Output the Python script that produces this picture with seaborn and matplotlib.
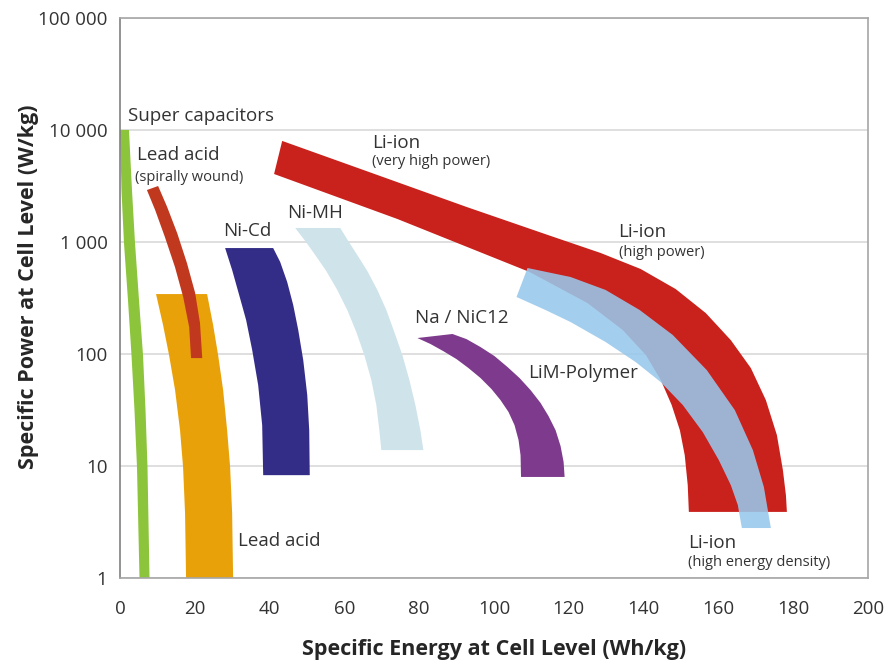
import numpy as np
import pandas as pd
import matplotlib
matplotlib.use("Agg")
import matplotlib.pyplot as plt
import seaborn as sns
from matplotlib.ticker import FuncFormatter

### Band outlines (energy in Wh/kg, power in W/kg) ###
# Super capacitors
supercap_left_e = [0.0, 0.40, 1.07, 2.14, 3.08, 3.88, 4.55, 5.22]
supercap_left_p = [10000, 2911, 980, 303, 98, 31.6, 9.8, 1]
supercap_right_e = [2.41, 3.21, 4.02, 5.09, 6.16, 6.83, 7.36, 7.90]
supercap_right_p = [10000, 2911, 980, 303, 98, 31.6, 9.8, 1]

# Lead acid (spirally wound)
spiral_left_e = [7.2, 9.4, 12.0, 14.7, 16.9, 18.5, 19.0]
spiral_left_p = [2910, 1930, 1110, 598, 323, 174, 92]
spiral_right_e = [10.2, 12.6, 15.3, 17.9, 20.1, 21.4, 22.0]
spiral_right_p = [3160, 2060, 1200, 650, 351, 189, 92]

# Lead acid
lead_left_e = [9.64, 11.51, 13.12, 14.73, 16.06, 16.87, 17.40, 17.67]
lead_left_p = [343, 182, 98, 47.7, 20.9, 9.8, 3.8, 1]
lead_right_e = [23.29, 24.90, 26.24, 27.58, 28.65, 29.45, 29.99, 30.25]
lead_right_p = [343, 182, 98, 47.7, 20.9, 9.8, 3.8, 1]

# Ni-Cd
nicd_left_e = [28.11, 29.99, 31.86, 33.73, 35.34, 36.95, 38.02, 38.29]
nicd_left_p = [883, 562, 337, 201, 109, 52.8, 23.2, 8.3]
nicd_right_e = [40.96, 42.84, 44.71, 46.32, 47.66, 49.00, 50.07, 50.60, 50.74]
nicd_right_p = [883, 663, 439, 274, 164, 88.3, 43.1, 20.9, 8.3]

# Ni-MH
nimh_left_e = [46.85, 49.53, 52.21, 55.15, 58.10, 60.78, 63.19, 65.33, 67.20, 68.54, 69.34, 69.88]
nimh_left_p = [1334, 1021, 765, 551, 373, 247, 157, 98, 58.6, 35.1, 20.9, 13.9]
nimh_right_e = [58.90, 61.04, 63.45, 66.13, 68.81, 71.22, 73.36, 75.50, 77.38, 78.98, 80.32, 81.12]
nimh_right_p = [1334, 1021, 765, 551, 373, 247, 157, 98, 58.6, 35.1, 20.9, 13.9]

# Na / NiCl2
nacl_low_e = [79.52, 83.00, 86.48, 89.96, 93.17, 96.39, 99.33, 101.74, 103.88, 105.49, 106.56, 107.10, 107.23]
nacl_low_p = [139, 123, 106, 90.2, 75.0, 61.1, 48.7, 38.8, 30.4, 23.2, 17.1, 12.5, 8.0]
nacl_up_e = [88.89, 92.64, 96.39, 100.13, 103.61, 106.83, 109.77, 112.45, 114.59, 116.47, 117.80, 118.61, 118.88]
nacl_up_p = [151, 136, 115.5, 95.9, 76.6, 61.1, 47.7, 36.6, 27.9, 20.9, 15.1, 10.9, 8.0]

# Li-ion (very high power -> high power)
liion_up_e = [43.37, 65.06, 92.64, 115.13, 128.51, 139.22, 148.59, 156.63, 163.32,
              168.67, 172.69, 175.64, 177.24, 178.05, 178.31]
liion_up_p = [7980, 4395, 2056, 1133, 798, 574, 380, 232, 133, 75.0, 38.8, 18.9, 9.2, 5.5, 3.9]
liion_low_e = [41.2, 74.2, 109.5, 125.0, 134.4, 140.6, 144.6, 147.5, 149.7, 151.0, 151.8, 152.1]
liion_low_p = [4045, 1603, 540, 285, 164, 98, 58.6, 35.1, 20.9, 12.5, 6.76, 3.9]

# Li-ion (high energy density) / LiM-Polymer
lihe_up_e = [108.97, 120.48, 129.85, 138.96, 147.79, 156.89, 164.39, 169.21, 172.16, 174.03]
lihe_up_p = [586, 487, 373, 247, 148, 71.9, 31.6, 13.9, 6.5, 2.8]
lihe_low_e = [106.02, 113.79, 120.48, 129.85, 137.88, 144.58, 150.47, 155.82, 160.11,
              163.32, 165.19, 166.27]
lihe_low_p = [323, 247, 193, 128, 84.8, 56.2, 35.1, 20.1, 11.3, 6.76, 4.49, 2.8]

y_ticks = [1, 10, 100, 1000, 10000, 100000]
x_ticks = [0, 20, 40, 60, 80, 100, 120, 140, 160, 180, 200]

sns.set_style("white")
plt.rcParams['font.family'] = ['Open Sans', 'DejaVu Sans']

fig = plt.figure(figsize=(8.9, 6.63), dpi=100)
ax = fig.add_axes([0.1348, 0.128, 0.8405, 0.845])


def band(e1, p1, e2, p2, color, alpha=1.0, z=2):
    # outline = first edge forward + second edge backward
    df = pd.DataFrame({"e": list(e1) + list(e2)[::-1],
                       "p": list(p1) + list(p2)[::-1]})
    ax.fill(df["e"], df["p"], color=color, alpha=alpha, lw=0, zorder=z)


band(supercap_left_e, supercap_left_p, supercap_right_e, supercap_right_p, "#8cc43c")
band(lead_left_e, lead_left_p, lead_right_e, lead_right_p, "#e9a10a")
band(spiral_left_e, spiral_left_p, spiral_right_e, spiral_right_p, "#c0391f", z=3)
band(nicd_left_e, nicd_left_p, nicd_right_e, nicd_right_p, "#342d88")
band(nimh_left_e, nimh_left_p, nimh_right_e, nimh_right_p, "#cfe3ea")
band(nacl_low_e, nacl_low_p, nacl_up_e, nacl_up_p, "#7e3a8c")
band(liion_up_e, liion_up_p, liion_low_e, liion_low_p, "#c9211c")
band(lihe_up_e, lihe_up_p, lihe_low_e, lihe_low_p, "#98c8ec", alpha=0.88, z=4)

ax.set_yscale("log")
ax.set_xlim(0, 200)
ax.set_ylim(1, 100000)
ax.set_xticks(x_ticks)
ax.set_yticks(y_ticks)
ax.minorticks_off()
ax.yaxis.set_major_formatter(FuncFormatter(lambda v, pos: f"{int(v):,}".replace(",", " ")))
ax.grid(axis="y", color="#d9d9d9", lw=1.2)
ax.set_axisbelow(True)
ax.tick_params(axis="both", direction="out", length=5, width=1, color="#808080",
               labelsize=13.5, labelcolor="#333333")
ax.tick_params(axis="x", pad=11)
ax.tick_params(axis="y", pad=4)
for s in ["top", "right", "bottom"]:
    ax.spines[s].set_color("#a6a6a6")
ax.spines["left"].set_color("#808080")
for s in ax.spines.values():
    s.set_linewidth(1.2)

ax.set_xlabel("Specific Energy at Cell Level (Wh/kg)", fontsize=15.5, fontweight="bold",
              labelpad=15)
ax.set_ylabel("Specific Power at Cell Level (W/kg)", fontsize=15.5, fontweight="bold")
ax.yaxis.set_label_coords(-0.108, 0.52)

# labels
big = dict(fontsize=13.5, color="#333333", va="center", ha="left", zorder=5)
small = dict(fontsize=10.5, color="#333333", va="center", ha="left", zorder=5)
ax.text(2.1, 13300, "Super capacitors", **big)
ax.text(4.6, 6000, "Lead acid", **big)
ax.text(4.0, 3730, "(spirally wound)", **small)
ax.text(27.6, 1250, "Ni-Cd", **big)
ax.text(44.7, 1820, "Ni-MH", **big)
ax.text(67.5, 7660, "Li-ion", **big)
ax.text(67.5, 5180, "(very high power)", **small)
ax.text(133.3, 1230, "Li-ion", **big)
ax.text(133.3, 800, "(high power)", **small)
ax.text(79.0, 210, "Na / NiC12", **big)
ax.text(109.0, 67.6, "LiM-Polymer", **big)
ax.text(31.6, 2.14, "Lead acid", **big)
ax.text(151.8, 2.05, "Li-ion", **big)
ax.text(151.8, 1.39, "(high energy density)", **small)

plt.savefig("out.png", dpi=100)
